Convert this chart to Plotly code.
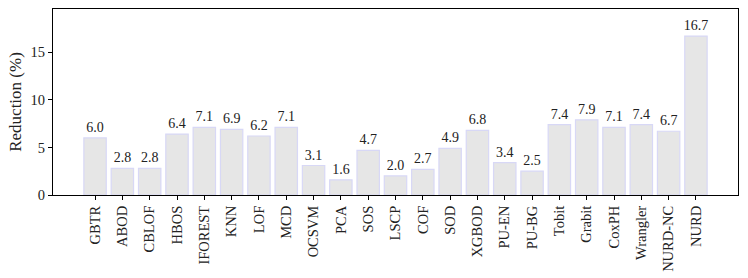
import plotly.graph_objects as go

methods = ["GBTR", "ABOD", "CBLOF", "HBOS", "IFOREST", "KNN", "LOF", "MCD", "OCSVM", "PCA",
           "SOS", "LSCP", "COF", "SOD", "XGBOD", "PU-EN", "PU-BG", "Tobit", "Grabit", "CoxPH",
           "Wrangler", "NURD-NC", "NURD"]
reduction = [6.0, 2.8, 2.8, 6.4, 7.1, 6.9, 6.2, 7.1, 3.1, 1.6,
             4.7, 2.0, 2.7, 4.9, 6.8, 3.4, 2.5, 7.4, 7.9, 7.1,
             7.4, 6.7, 16.7]
yticks = [0, 5, 10, 15]

xs = list(range(len(methods)))
font = "Liberation Serif"

fig = go.Figure(go.Bar(
    x=xs, y=reduction, width=0.82,
    marker=dict(color="#e6e6e6", line=dict(color="#d8d8f6", width=1.2)),
    text=[f"{v:.1f}" for v in reduction], textposition="outside",
    textfont=dict(family=font, size=14, color="#222"),
    constraintext="none",
    cliponaxis=False,
))
fig.update_layout(
    width=748, height=278,
    margin=dict(l=53, r=10, t=9, b=83, autoexpand=False),
    plot_bgcolor="white", paper_bgcolor="white",
    showlegend=False,
    font=dict(family=font, size=14, color="#222"),
)
fig.update_xaxes(
    range=[-1.54, len(methods) - 1 + 1.54],
    tickmode="array", tickvals=xs, ticktext=methods, tickangle=-90,
    ticks="outside", ticklen=4, tickcolor="black", tickfont=dict(size=14.5),
    showline=True, linecolor="black", linewidth=1, mirror=True, showgrid=False,
    zeroline=False, automargin=False,
)
fig.update_yaxes(
    range=[0, 19.55], tickvals=yticks,
    ticks="outside", ticklen=4, tickcolor="black", tickfont=dict(size=14.5),
    showline=True, linecolor="black", linewidth=1, mirror=True, showgrid=False,
    zeroline=False, automargin=False,
    title=dict(text="Reduction (%)", font=dict(size=17), standoff=4),
)
fig.write_html("out.html", config={"displayModeBar": False},
               post_script="document.body.style.margin='0';document.body.style.padding='0';")
